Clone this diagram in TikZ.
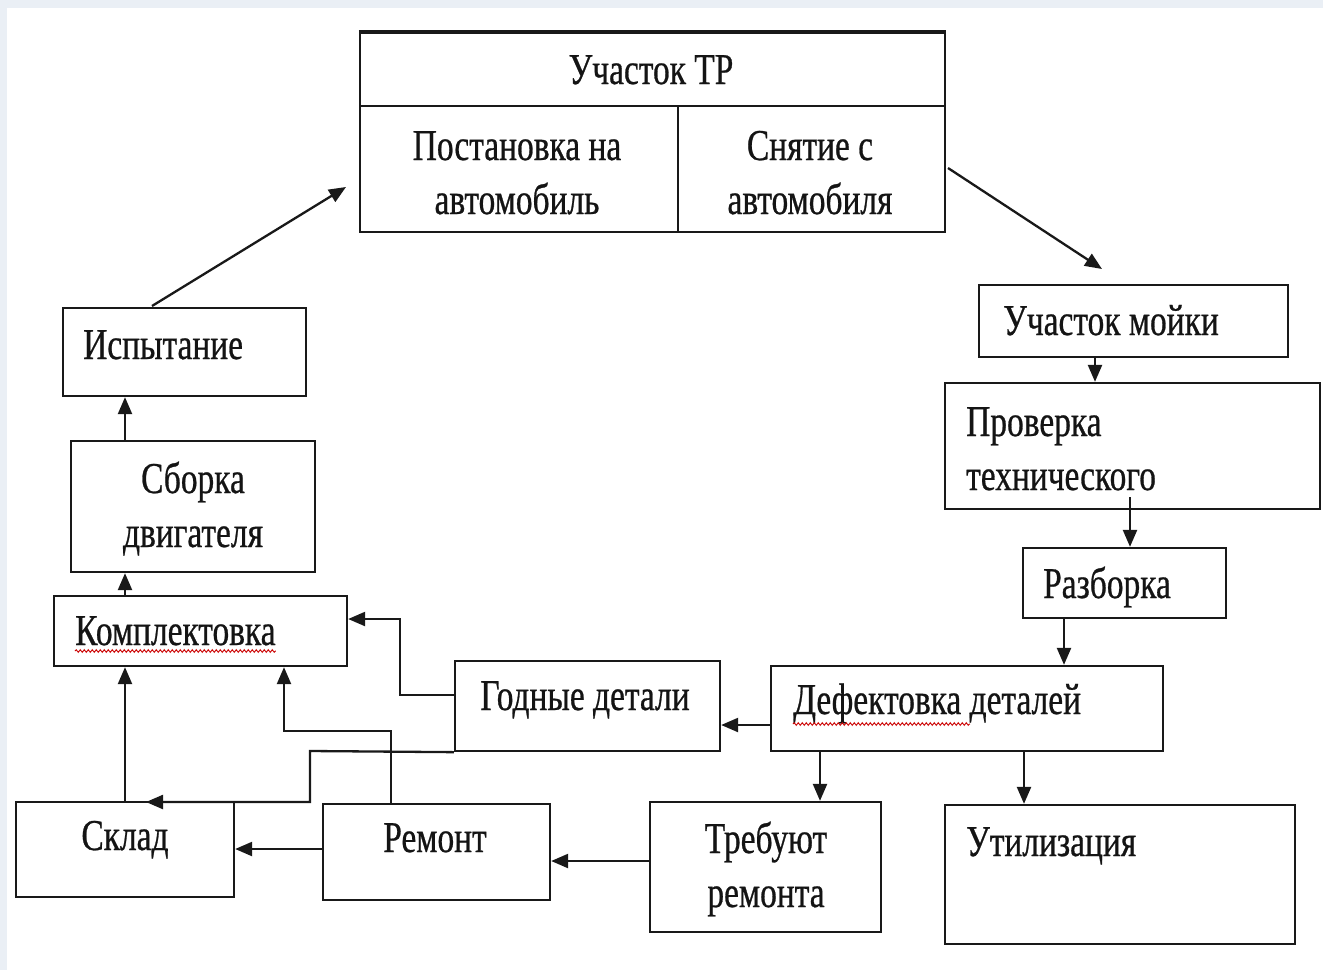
\documentclass[tikz,border=0pt]{standalone}
\usepackage{fontspec}
\setmainfont{Liberation Serif}[FakeStretch=0.76,FakeBold=0.6]
\usetikzlibrary{arrows.meta,decorations.pathmorphing}
\definecolor{bgedge}{RGB}{234,239,245}
\definecolor{linec}{RGB}{25,25,25}
\begin{document}
\begin{tikzpicture}[x=1pt,y=-1pt,
 box/.style={draw=linec, line width=2.3pt, inner sep=0pt},
 lbl/.style={inner sep=0pt, font=\fontsize{44}{55}\selectfont, text=black!92},
 arr/.style={draw=linec, line width=2.3pt, -{Triangle[length=17pt,width=14pt]}},
 ln/.style={draw=linec, line width=2.3pt},
 wavy/.style={red!80!black, line width=0.9pt, decorate, decoration={snake, amplitude=1.3pt, segment length=4pt}}]
\fill[bgedge] (0,0) rectangle (1323,970);
\fill[white] (7,8) rectangle (1323,970);
\useasboundingbox (0,0) rectangle (1323,970);

% boxes (center, width, height)
\node[box, minimum width=585pt, minimum height=199pt] (tr) at (652.5,132.5) {};
\coordinate (trmidL) at (360,106);
\coordinate (trmidR) at (945,106);
\coordinate (trdiv) at (678,106);
\draw[ln] (trmidL) -- (trmidR);
\draw[ln] (trdiv) -- (trdiv |- tr.south);
\draw[draw=linec, line width=3.2pt] (tr.north west) -- (tr.north east);

\node[box, minimum width=309pt, minimum height=72pt] (moika) at (1133.5,321) {};
\node[box, minimum width=375pt, minimum height=126pt] (prov) at (1132.5,446) {};
\node[box, minimum width=203pt, minimum height=70pt] (razb) at (1124.5,583) {};
\node[box, minimum width=392pt, minimum height=85pt] (defekt) at (967,708.5) {};
\node[box, minimum width=265pt, minimum height=90pt] (godn) at (587.5,706) {};
\node[box, minimum width=293pt, minimum height=70pt] (kompl) at (200.5,631) {};
\node[box, minimum width=244pt, minimum height=131pt] (sborka) at (193,506.5) {};
\node[box, minimum width=243pt, minimum height=88pt] (isp) at (184.5,352) {};
\node[box, minimum width=218pt, minimum height=95pt] (sklad) at (125,849.5) {};
\node[box, minimum width=227pt, minimum height=96pt] (remont) at (436.5,852) {};
\node[box, minimum width=231pt, minimum height=130pt] (treb) at (765.5,867) {};
\node[box, minimum width=350pt, minimum height=139pt] (util) at (1120,874.5) {};

% texts
\node[lbl, anchor=base] (t1) at (651,84) {Участок ТР};
\node[lbl, anchor=base] (t2) at (517,160) {Постановка на};
\node[lbl, anchor=base] (t3) at (517,214) {автомобиль};
\node[lbl, anchor=base] (t4) at (810,160) {Снятие с};
\node[lbl, anchor=base] (t5) at (810,214) {автомобиля};
\node[lbl, anchor=base west] (t6) at (1003,335) {Участок мойки};
\node[lbl, anchor=base west] (t7) at (966,436) {Проверка};
\node[lbl, anchor=base west] (t8) at (966,490) {технического};
\node[lbl, anchor=base] (t9) at (1107,598) {Разборка};
\node[lbl, anchor=base west] (t10) at (793,714) {Дефектовка деталей};
\node[lbl, anchor=base] (t11) at (585,710) {Годные детали};
\node[lbl, anchor=base west] (t12) at (75,645) {Комплектовка};
\node[lbl, anchor=base] (t13) at (193,493) {Сборка};
\node[lbl, anchor=base] (t14) at (193,547) {двигателя};
\node[lbl, anchor=base west] (t15) at (83,359) {Испытание};
\node[lbl, anchor=base] (t16) at (125,850) {Склад};
\node[lbl, anchor=base] (t17) at (435,852) {Ремонт};
\node[lbl, anchor=base] (t18) at (766,853) {Требуют};
\node[lbl, anchor=base] (t19) at (766,907) {ремонта};
\node[lbl, anchor=base west] (t20) at (966,856) {Утилизация};

% spell-check underlines
\draw[wavy] ([yshift=-6pt]t12.base west) -- ([yshift=-6pt]t12.base east);
\draw[wavy] ([yshift=-10pt]t10.base west) -- ([yshift=-10pt]t10.base west -| 970,0);

% connectors
\coordinate (a1s) at (152,306);
\coordinate (a1e) at (346,187);
\draw[arr] (a1s) -- (a1e);
\coordinate (a2s) at (948,168);
\coordinate (a2e) at (1102,269);
\draw[arr] (a2s) -- (a2e);
\draw[arr] (moika.south -| 1095,0) -- (prov.north -| 1095,0);
\coordinate (p2) at (1130,497);
\draw[arr] (p2) -- (razb.north -| p2);
\draw[arr] (razb.south -| 1064,0) -- (defekt.north -| 1064,0);
\draw[arr] (defekt.west |- 0,725) -- (godn.east |- 0,725);
\draw[arr] (defekt.south -| 820,0) -- (treb.north -| 820,0);
\draw[arr] (defekt.south -| 1024,0) -- (util.north -| 1024,0);
\draw[arr] (treb.west |- 0,861) -- (remont.east |- 0,861);
\draw[arr] (remont.west |- 0,849) -- (sklad.east |- 0,849);
\draw[arr] (remont.north -| 391,0) -- (391,731) -- (284,731) -- (kompl.south -| 284,0);
\draw[arr] (godn.west |- 0,695) -- (400,695) -- (400,619) -- (kompl.east |- 0,619);
\coordinate (skladarr) at (146,802);
\draw[arr] (godn.south west) -- (310,751) -- (310,802) -- (skladarr);
\draw[arr] (sklad.north -| 125,0) -- (kompl.south -| 125,0);
\draw[arr] (kompl.north -| 125,0) -- (sborka.south -| 125,0);
\draw[arr] (sborka.north -| 125,0) -- (isp.south -| 125,0);
\end{tikzpicture}
\end{document}
